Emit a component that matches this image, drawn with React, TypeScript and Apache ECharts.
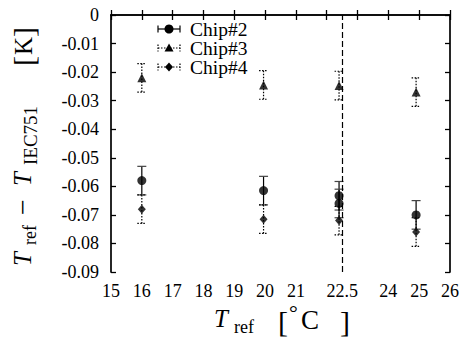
import React, { useEffect, useRef } from 'react';
import * as echarts from 'echarts';

const seriesNames = ['Chip#2', 'Chip#3', 'Chip#4'];
const chip2X = [16, 19.95, 22.4, 22.4, 24.9];
const chip2Y = [-0.058, -0.0615, -0.0633, -0.066, -0.07];
const chip2Err = [0.005, 0.005, 0.005, 0.005, 0.005];
const chip3X = [16, 19.95, 22.4, 24.9];
const chip3Y = [-0.022, -0.0245, -0.0247, -0.027];
const chip3Err = [0.005, 0.005, 0.005, 0.005];
const chip4X = [16, 19.95, 22.4, 24.9];
const chip4Y = [-0.068, -0.0715, -0.072, -0.076];
const chip4Err = [0.005, 0.005, 0.005, 0.005];
const xLabelValues = [15, 16, 17, 18, 19, 20, 21, 22.5, 24, 25, 26];
const xTickValues = [15, 16, 17, 18, 19, 20, 21, 22, 23, 24, 25, 26];
const refLineX = [22.5];

const FONT = 'Liberation Serif';

function pts(xs: number[], ys: number[]) {
  return xs.map((x, i) => [x, ys[i]]);
}
function errs(xs: number[], ys: number[], es: number[]) {
  return xs.map((x, i) => [x, ys[i] - es[i], ys[i] + es[i]]);
}

function errRender(dash: number[] | null, capColor: string) {
  return (params: any, api: any) => {
    const x = api.value(0);
    const lo = api.value(1);
    const hi = api.value(2);
    const top = api.coord([x, hi]);
    const bot = api.coord([x, lo]);
    const hw = 4.5;
    const style: any = { stroke: '#000', lineWidth: 1.2, lineDash: dash || undefined };
    const capStyle: any = { stroke: capColor, lineWidth: 1.2, lineDash: dash || undefined };
    return {
      type: 'group',
      children: [
        { type: 'line', shape: { x1: top[0], y1: top[1], x2: bot[0], y2: bot[1] }, style },
        { type: 'line', shape: { x1: top[0] - hw, y1: top[1], x2: top[0] + hw, y2: top[1] }, style: capStyle },
        { type: 'line', shape: { x1: bot[0] - hw, y1: bot[1], x2: bot[0] + hw, y2: bot[1] }, style: capStyle },
      ],
    };
  };
}

function txt(x: number, y: number, text: string, size: number, italic = false, lineHeight?: number): any {
  return {
    type: 'text', x, y,
    style: { text, fontFamily: FONT, fontStyle: italic ? 'italic' : 'normal', fontSize: size, lineHeight: lineHeight || size, fill: '#000', align: 'left', verticalAlign: 'middle' },
  };
}

function legendRow(i: number, name: string, kind: string, dotted: boolean): any[] {
  const y = 29 + 19 * i;
  const x0 = 158, x1 = 180, cx = 169;
  const dash = dotted ? [1.5, 1.5] : undefined;
  const st: any = { stroke: '#000', lineWidth: 1.2, lineDash: dash };
  const out: any[] = [
    { type: 'line', shape: { x1: x0, y1: y, x2: x1, y2: y }, style: st },
    { type: 'line', shape: { x1: x0, y1: y - 3.5, x2: x0, y2: y + 3.5 }, style: st },
    { type: 'line', shape: { x1: x1, y1: y - 3.5, x2: x1, y2: y + 3.5 }, style: st },
  ];
  if (kind === 'circle') out.push({ type: 'circle', shape: { cx, cy: y, r: 4.5 }, style: { fill: '#000' } });
  if (kind === 'triangle') out.push({ type: 'polygon', shape: { points: [[cx, y - 4.5], [cx + 4.5, y + 3.5], [cx - 4.5, y + 3.5]] }, style: { fill: '#000' } });
  if (kind === 'diamond') out.push({ type: 'polygon', shape: { points: [[cx, y - 4.5], [cx + 4, y], [cx, y + 4.5], [cx - 4, y]] }, style: { fill: '#000' } });
  out.push(txt(190, y, name, 19.5, false, 17));
  return out;
}

export default function App() {
  const ref = useRef<HTMLDivElement>(null);
  useEffect(() => {
    if (!ref.current) return;
    const chart = echarts.init(ref.current, null, { renderer: 'svg' });
    const axisLine = { show: true, lineStyle: { color: '#000', width: 1.7 } };
    const tick = { show: true, inside: true, length: 5, lineStyle: { color: '#000', width: 1.3 } };
    const option: any = {
      animation: false,
      backgroundColor: '#fff',
      textStyle: { fontFamily: FONT },
      grid: { left: 111, right: 9, top: 15, bottom: 66, containLabel: false },
      xAxis: [
        {
          type: 'value', min: 15, max: 26, interval: 1, position: 'bottom',
          axisLine, splitLine: { show: false },
          axisTick: { ...tick, customValues: xTickValues },
          axisLabel: { customValues: xLabelValues, fontFamily: FONT, fontSize: 18, color: '#000', margin: 10,
            formatter: (v: number) => String(v) },
        },
        {
          type: 'value', min: 15, max: 26, interval: 1, position: 'top',
          axisLine, splitLine: { show: false },
          axisTick: { ...tick, customValues: xTickValues },
          axisLabel: { show: false },
        },
      ],
      yAxis: [
        {
          type: 'value', min: -0.09, max: 0, interval: 0.01, position: 'left',
          axisLine, splitLine: { show: false }, axisTick: tick,
          axisLabel: { fontFamily: FONT, fontSize: 18, color: '#000', margin: 12,
            formatter: (v: number) => (Math.abs(v) < 1e-9 ? '0' : v.toFixed(2)) },
        },
        {
          type: 'value', min: -0.09, max: 0, interval: 0.01, position: 'right',
          axisLine, splitLine: { show: false }, axisTick: tick, axisLabel: { show: false },
        },
      ],
      series: [
        { type: 'custom', name: 'e2', renderItem: errRender(null, '#444'), data: errs(chip2X, chip2Y, chip2Err), encode: { x: 0, y: [1, 2] }, z: 2, silent: true },
        { type: 'custom', name: 'e3', renderItem: errRender([1.5, 1.5], '#000'), data: errs(chip3X, chip3Y, chip3Err), encode: { x: 0, y: [1, 2] }, z: 2, silent: true },
        { type: 'custom', name: 'e4', renderItem: errRender([1.5, 1.5], '#000'), data: errs(chip4X, chip4Y, chip4Err), encode: { x: 0, y: [1, 2] }, z: 2, silent: true },
        { type: 'scatter', name: seriesNames[0], symbol: 'circle', symbolSize: 9, itemStyle: { color: '#000' }, data: pts(chip2X, chip2Y), z: 3,
          markLine: { silent: true, symbol: 'none', label: { show: false }, lineStyle: { color: '#000', type: [6, 3], width: 1.2 },
            data: refLineX.map((v) => ({ xAxis: v })) } },
        { type: 'scatter', name: seriesNames[1], symbol: 'triangle', symbolSize: 9, itemStyle: { color: '#000' }, data: pts(chip3X, chip3Y), z: 3 },
        { type: 'scatter', name: seriesNames[2], symbol: 'diamond', symbolSize: [8, 9], itemStyle: { color: '#000' }, data: pts(chip4X, chip4Y), z: 3 },
      ],
      graphic: [
        ...legendRow(0, seriesNames[0], 'circle', false),
        ...legendRow(1, seriesNames[1], 'triangle', true),
        ...legendRow(2, seriesNames[2], 'diamond', true),
        {
          type: 'group', x: 0, y: 266, rotation: Math.PI / 2,
          children: [
            txt(0, 22, 'T', 25, true),
            txt(21, 30, 'ref', 18),
            txt(51, 22, '\u2212', 28),
            txt(80, 22, 'T', 25, true),
            txt(101, 30, 'IEC751', 19),
            txt(200, 23, '[', 30),
            txt(211, 23, 'K', 25),
            txt(229, 23, ']', 30),
          ],
        },
        txt(214, 318, 'T', 25, true),
        txt(234, 327, 'ref', 18),
        txt(278, 321, '[', 30),
        txt(289, 312, '\u00b0', 22),
        txt(301, 320, 'C', 27),
        txt(340, 321, ']', 30),
      ],
    };
    chart.setOption(option);
    return () => chart.dispose();
  }, []);
  return <div ref={ref} style={{ width: 462, height: 338, position: 'absolute', left: 0, top: 0 }} />;
}
